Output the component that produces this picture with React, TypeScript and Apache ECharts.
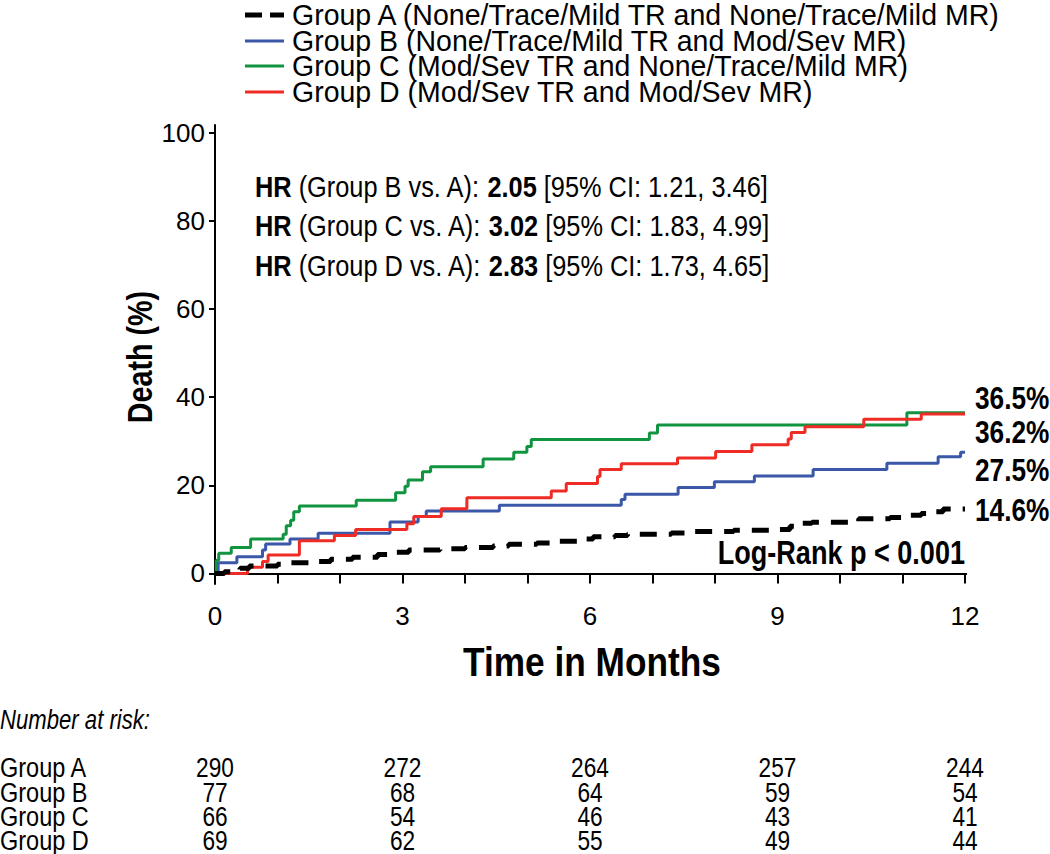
import React, { useEffect, useRef } from "react";
import * as echarts from "echarts";

const FONT = "'Liberation Sans', Arial, Helvetica, sans-serif";
const NARROW_X = 0.82;

const groupNames = ["Group A", "Group B", "Group C", "Group D"];
const legendLabels = [
  "Group A (None/Trace/Mild TR and None/Trace/Mild MR)",
  "Group B (None/Trace/Mild TR and Mod/Sev MR)",
  "Group C (Mod/Sev TR and None/Trace/Mild MR)",
  "Group D (Mod/Sev TR and Mod/Sev MR)",
];
const groupColors = ["#000000", "#3B57A8", "#10943F", "#EE2B24"];

// [months, cumulative death %]
const groupA: number[][] = [
  [0, 0], [0.15, 0.4], [0.4, 1.2], [0.55, 1.7], [1.0, 2.1], [1.2, 2.4], [1.5, 2.7],
  [1.85, 3.2], [2.2, 3.7], [2.6, 4.3], [2.9, 4.8], [3.1, 5.3], [3.6, 5.6], [4.0, 5.9],
  [4.45, 6.2], [4.7, 6.6], [5.15, 6.9], [5.4, 7.3], [5.8, 7.8], [6.05, 8.3], [6.4, 8.6],
  [6.6, 8.9], [7.3, 9.2], [7.6, 9.5], [8.3, 9.8], [8.9, 10.0], [9.2, 10.7], [9.35, 11.4],
  [9.55, 11.6], [10.3, 12.4], [10.8, 12.7], [11.0, 13.2], [11.3, 13.6], [11.5, 14.0],
  [11.65, 14.6], [12, 14.6],
];
const groupB: number[][] = [
  [0, 0], [0.05, 2.4], [0.35, 3.8], [0.76, 5.3], [0.81, 6.7], [1.2, 7.8], [1.65, 9.1],
  [2.8, 11.7], [3.25, 12.9], [3.38, 14.2], [4.55, 15.5], [6.5, 16.8], [6.56, 18.0],
  [7.41, 19.5], [7.99, 20.8], [8.63, 22.1], [9.57, 23.6], [10.75, 25.0], [11.57, 26.5],
  [11.93, 27.5], [12, 27.5],
];
const groupC: number[][] = [
  [0, 0], [0.02, 3.0], [0.06, 4.6], [0.26, 5.9], [0.57, 7.8], [1.09, 8.9], [1.14, 10.8],
  [1.21, 12.1], [1.26, 14.0], [1.35, 15.3], [2.26, 16.6], [2.89, 18.3], [3.04, 19.8],
  [3.09, 21.2], [3.32, 23.1], [3.45, 24.2], [4.29, 26.0], [4.78, 27.5], [4.99, 28.8],
  [5.06, 30.4], [6.95, 31.9], [7.08, 33.7], [11.07, 36.5], [12, 36.5],
];
const groupD: number[][] = [
  [0, 0], [0.52, 1.4], [0.76, 2.7], [0.85, 4.2], [1.35, 7.4], [1.91, 8.6], [2.25, 10.0],
  [3.07, 11.3], [3.18, 12.9], [3.62, 14.7], [4.03, 17.2], [5.38, 18.7], [5.62, 20.4],
  [6.12, 22.0], [6.16, 23.6], [6.5, 24.9], [7.4, 26.2], [8.01, 27.7], [8.59, 29.2],
  [9.17, 30.5], [9.22, 32.0], [9.44, 33.3], [10.38, 35.0], [11.3, 36.2], [12, 36.2],
];
const groupData = [groupA, groupB, groupC, groupD];

const endLabels = ["36.5%", "36.2%", "27.5%", "14.6%"];
const yTicks = [0, 20, 40, 60, 80, 100];
const xTicks = [0, 1, 2, 3, 4, 5, 6, 7, 8, 9, 10, 11, 12];
const xLabels = [0, 3, 6, 9, 12];

const hrGroups = ["B", "C", "D"];
const hrValues = ["2.05", "3.02", "2.83"];
const hrCI = ["1.21, 3.46", "1.83, 4.99", "1.73, 4.65"];

const riskTimes = [0, 3, 6, 9, 12];
const riskA = [290, 272, 264, 257, 244];
const riskB = [77, 68, 64, 59, 54];
const riskC = [66, 54, 46, 43, 41];
const riskD = [69, 62, 55, 49, 44];
const riskRows = [riskA, riskB, riskC, riskD];

export default function App() {
  const ref = useRef<HTMLDivElement>(null);
  useEffect(() => {
    if (!ref.current) return;
    const chart = echarts.init(ref.current, null, { renderer: "svg" });
    chart.setOption({
      animation: false,
      backgroundColor: "#ffffff",
      textStyle: { fontFamily: FONT, color: "#000" },
      grid: { left: 210, right: 83.75, top: 125, bottom: 270, containLabel: false },
      xAxis: {
        type: "value",
        min: -0.08,
        max: 12.02,
        axisLine: { show: true, lineStyle: { color: "#000", width: 2 } },
        axisTick: { show: true, length: 10, customValues: xTicks, lineStyle: { color: "#000", width: 2 } },
        axisLabel: { customValues: xLabels, fontSize: 26, color: "#000", margin: 19, fontFamily: FONT },
        splitLine: { show: false },
      },
      yAxis: {
        type: "value",
        min: -2.4,
        max: 101.8,
        axisLine: { show: true, lineStyle: { color: "#000", width: 2 } },
        axisTick: { show: true, length: 6, customValues: yTicks, lineStyle: { color: "#000", width: 2 } },
        axisLabel: { customValues: yTicks, fontSize: 26, color: "#000", margin: 5, fontFamily: FONT },
        splitLine: { show: false },
      },
      series: groupData.map((d, i) => ({
        name: groupNames[i],
        type: "line",
        step: "end",
        data: d,
        showSymbol: false,
        symbol: "none",
        z: i === 0 ? 3 : 2,
        lineStyle: {
          color: groupColors[i],
          width: i === 0 ? 5 : 3,
          type: i === 0 ? [17, 12] : "solid",
        },
      })),
    });

    const colX = riskTimes.map((t) => chart.convertToPixel({ xAxisIndex: 0 }, t) as number);
    const graphics: any[] = [];
    const txt = (x: number, y: number, style: any, extra: any = {}) =>
      graphics.push({ type: "text", x, y, scaleX: NARROW_X, ...extra, style: { fontFamily: FONT, fill: "#000", verticalAlign: "middle", ...style } });

    // axis names
    txt(140, 357, { text: "Death (%)", fontWeight: "bold", fontSize: 35, align: "center" }, { rotation: Math.PI / 2 });
    txt(592, 662, { text: "Time in Months", fontWeight: "bold", fontSize: 41, align: "center" }, { scaleX: 0.86 });

    // legend
    const legY = [15, 41, 66, 92];
    legendLabels.forEach((lab, i) => {
      if (i === 0) {
        graphics.push({ type: "line", shape: { x1: 245, y1: legY[i], x2: 262, y2: legY[i] }, style: { stroke: "#000", lineWidth: 5 } });
        graphics.push({ type: "line", shape: { x1: 270, y1: legY[i], x2: 284, y2: legY[i] }, style: { stroke: "#000", lineWidth: 5 } });
      } else {
        graphics.push({ type: "line", shape: { x1: 245, y1: legY[i], x2: 284, y2: legY[i] }, style: { stroke: groupColors[i], lineWidth: 3 } });
      }
      txt(292, legY[i], { text: lab, fontSize: 30, align: "left" }, { scaleX: 0.95 });
    });
    // HR annotations
    const hrY = [187, 226, 266];
    hrGroups.forEach((g, i) => {
      txt(255, hrY[i], {
        text: `{b|HR} (Group ${g} vs. A): {b|${hrValues[i]}} [95% CI: ${hrCI[i]}]`,
        fontSize: 30,
        rich: { b: { fontWeight: "bold", fontFamily: FONT, fontSize: 30, fill: "#000" } },
      }, { scaleX: 0.845 });
    });
    // end labels
    const endY = [398, 432, 470, 510];
    endLabels.forEach((t, i) => {
      txt(975, endY[i], { text: t, fontWeight: "bold", fontSize: 32 });
    });
    txt(965, 553, { text: "Log-Rank p < 0.001", fontWeight: "bold", fontSize: 33, align: "right" });

    // risk table
    txt(0, 720, { text: "Number at risk:", fontStyle: "italic", fontSize: 27 }, { scaleX: 0.82 });
    const rowY = [767, 792, 816, 840];
    riskRows.forEach((row, r) => {
      txt(0, rowY[r], { text: groupNames[r], fontSize: 28 }, { scaleX: 0.84 });
      row.forEach((v, c) => {
        txt(colX[c], rowY[r], { text: String(v), fontSize: 27, align: "center" }, { scaleX: 0.84 });
      });
    });
    chart.setOption({ graphic: graphics });
    return () => chart.dispose();
  }, []);
  return <div ref={ref} style={{ position: "fixed", left: 0, top: 0, width: 1050, height: 854 }} />;
}
